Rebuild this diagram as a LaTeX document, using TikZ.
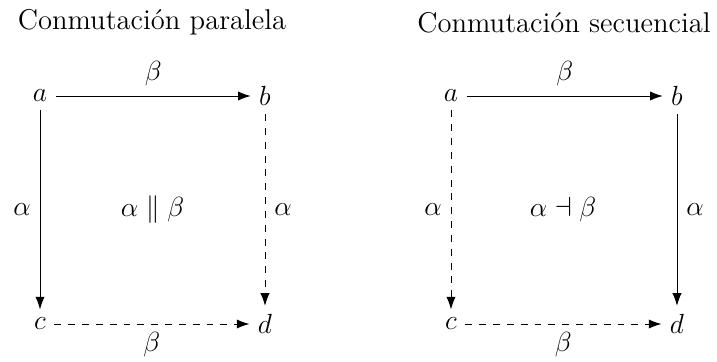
\documentclass[tikz,border=0pt]{standalone}
\usetikzlibrary{arrows.meta}
\begin{document}
\begin{tikzpicture}[x=0.4338pt,y=-0.4338pt,
  every node/.style={font=\fontsize{12.4pt}{15pt}\selectfont},
  arr/.style={-{Latex[length=5.5pt,width=4pt]},thin, shorten >=1.5pt, shorten <=1.5pt},
  darr/.style={arr,dashed},
  obj/.style={inner sep=2pt}]
\useasboundingbox (0,0) rectangle (717,362);
% left diagram
\node[anchor=base] at (152,30) {Conmutación paralela};
\node[obj] (a1) at (40,96) {$a$};
\node[obj] (b1) at (265,96) {$b$};
\node[obj] (c1) at (40,324) {$c$};
\node[obj] (d1) at (265,324) {$d$};
\draw[arr] (a1) -- node[above=1pt] {$\beta$} (b1);
\draw[arr] (a1) -- node[left=0.5pt] {$\alpha$} (c1);
\draw[darr] (b1) -- node[right=0.5pt] {$\alpha$} (d1);
\draw[darr] (c1) -- node[below=0pt] {$\beta$} (d1);
\node (m1) at (152.5,210) {$\alpha \parallel \beta$};
% right diagram
\node[anchor=base] at (564,33) {Conmutación secuencial};
\node[obj] (a2) at (451,96) {$a$};
\node[obj] (b2) at (677,96) {$b$};
\node[obj] (c2) at (451,324) {$c$};
\node[obj] (d2) at (677,324) {$d$};
\draw[arr] (a2) -- node[above=1pt] {$\beta$} (b2);
\draw[darr] (a2) -- node[left=0.5pt] {$\alpha$} (c2);
\draw[arr] (b2) -- node[right=0.5pt] {$\alpha$} (d2);
\draw[darr] (c2) -- node[below=0pt] {$\beta$} (d2);
\node (m2) at (563,210) {$\alpha \dashv \beta$};
\end{tikzpicture}
\end{document}
